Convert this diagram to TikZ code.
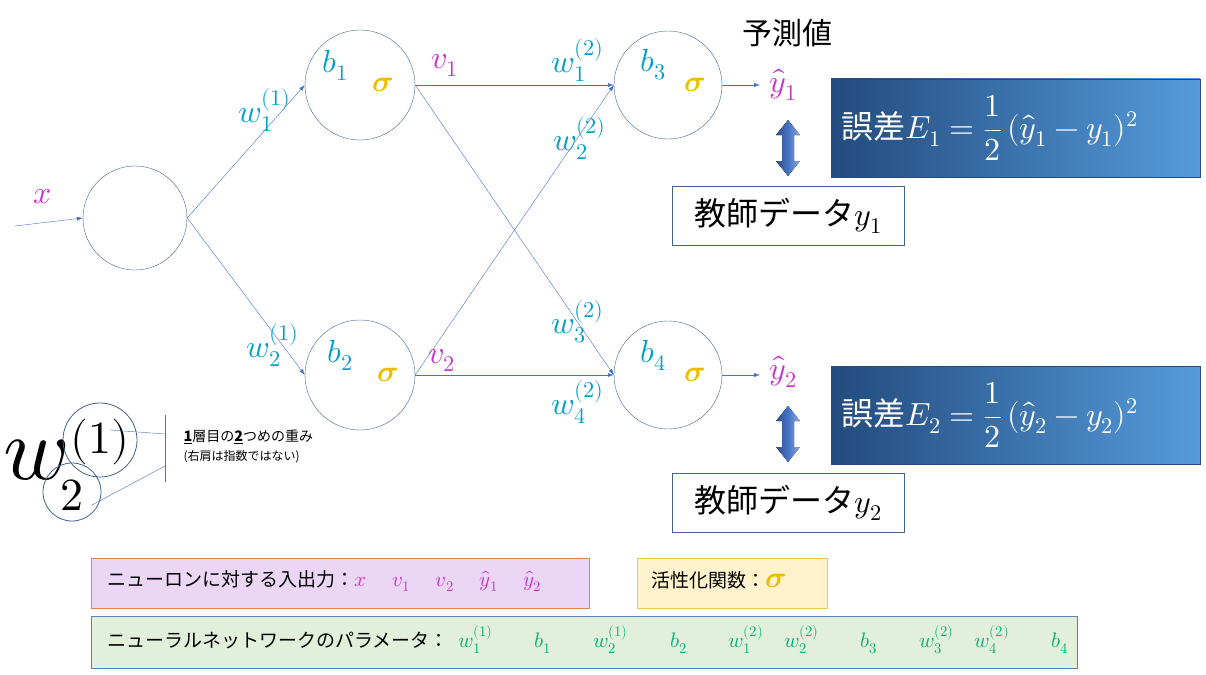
\documentclass[tikz,border=0pt]{standalone}
\usepackage{amsmath}
\usepackage{fontspec}
\usepackage{unicode-math}
\setmathfont{Latin Modern Math}
\newfontfamily\jp{Noto Sans CJK JP}
\usetikzlibrary{arrows.meta}
\definecolor{mag}{RGB}{204,51,204}
\definecolor{cy}{RGB}{0,160,200}
\definecolor{gd}{RGB}{235,190,0}
\definecolor{ln}{RGB}{68,114,196}
\definecolor{cl}{RGB}{65,100,140}
\definecolor{gr}{RGB}{0,176,120}
\definecolor{dk}{RGB}{35,75,125}
\definecolor{lt}{RGB}{85,155,220}
\newcommand{\sgm}{\symbfit{\sigma}}
\begin{document}
\begin{tikzpicture}[x=1pt,y=-1pt,
 neuron/.style={draw=cl,circle,minimum size=#1},
 con/.style={draw=ln,-{Latex[length=6pt,width=4pt]}},
 cyl/.style={text=cy,font=\fontsize{32}{34}\selectfont},
 mgl/.style={text=mag,font=\fontsize{32}{34}\selectfont},
 sg/.style={text=gd,font=\fontsize{30}{32}\selectfont},
 lab/.style={font=\jp\fontsize{19}{21}\selectfont}]
\useasboundingbox (0,0) rectangle (1206,674);
\node[neuron=104pt] (in) at (135,218) {};
\node[neuron=110pt] (n1) at (360,85) {};
\node[neuron=110pt] (n2) at (360,375) {};
\node[neuron=108pt] (n3) at (668,85) {};
\node[neuron=108pt] (n4) at (668,375) {};
\coordinate (xs) at (15,226);
\coordinate (o1) at (760,85);
\coordinate (o2) at (760,375);
\draw[con] (xs) -- (in.west);
\draw[con] (in.east) -- (n1.west);
\draw[con] (in.east) -- (n2.west);
\draw[con] (n1.east) -- (n3.west);
\draw[con] (n1.east) -- (n4.west);
\draw[con] (n2.east) -- (n3.west);
\draw[con] (n2.east) -- (n4.west);
\draw[con] (n3.east) -- (o1);
\draw[con] (n4.east) -- (o2);
\node[mgl] (lx) at (43,197) {$x$};
\node[cyl] (w11) at (265,110) {$w_1^{(1)}$};
\node[cyl] (w21) at (273,345) {$w_2^{(1)}$};
\node[cyl] (lb1) at (335,65) {$b_1$};
\node[sg] (s1) at (383,85) {$\sgm$};
\node[cyl] (lb2) at (340,355) {$b_2$};
\node[sg] (s2) at (388,375) {$\sgm$};
\node[mgl] (v1) at (445,65) {$v_1$};
\node[mgl] (v2) at (442,360) {$v_2$};
\node[cyl] (w12) at (578,60) {$w_1^{(2)}$};
\node[cyl] (w22) at (580,138) {$w_2^{(2)}$};
\node[cyl] (w32) at (578,322) {$w_3^{(2)}$};
\node[cyl] (w42) at (578,402) {$w_4^{(2)}$};
\node[cyl] (lb3) at (653,65) {$b_3$};
\node[sg] (s3) at (695,85) {$\sgm$};
\node[cyl] (lb4) at (653,355) {$b_4$};
\node[sg] (s4) at (695,375) {$\sgm$};
\node[mgl] (y1) at (783,85) {$\hat y_1$};
\node[mgl] (y2) at (783,372) {$\hat y_2$};
\node[font=\jp\fontsize{30}{32}\selectfont] (pred) at (787,33) {予測値};
% double arrows
\foreach \yy in {148,434}{
 \fill[left color=ln!70!black,right color=ln!60!white,middle color=ln] (788,\yy-28) -- (800,\yy-13) -- (794,\yy-13) -- (794,\yy+13) -- (800,\yy+13) -- (788,\yy+28) -- (776,\yy+13) -- (782,\yy+13) -- (782,\yy-13) -- (776,\yy-13) -- cycle;
}
% error boxes
\foreach \yy/\k in {79/1,366/2}{
 \shade[left color=dk,right color=lt] (831,\yy) rectangle (1200,\yy+98);
 \draw[dk] (831,\yy) rectangle (1200,\yy+98);
 \node[text=white,font=\jp\fontsize{32}{34}\selectfont,anchor=west] (err\k) at (838,\yy+49) {誤差$E_\k=\dfrac{1}{2}\,(\hat y_\k-y_\k)^2$};
 \node[draw=cl,minimum width=232pt,minimum height=59pt,font=\jp\fontsize{32}{34}\selectfont] (t\k) at (788,\yy+137) {教師データ$y_\k$};
}
% annotation
\node[font=\fontsize{90}{90}\selectfont] (bw) at (36,460) {$w$};
\node[font=\fontsize{46}{46}\selectfont] (bs) at (100,442) {$(1)$};
\node[font=\fontsize{46}{46}\selectfont] (bi) at (72,495) {$2$};
\draw[cl,thick] (100,440) circle (37);
\draw[cl,thick] (72,492) circle (29);
\coordinate (bar1) at (165,415);
\coordinate (bar2) at (165,482);
\draw[ln] (bar1) -- (bar2);
\draw[ln] (110,430) -- (165,434);
\draw[ln] (92,505) -- (165,466);
\node[anchor=west,font=\jp\fontsize{14}{16}\selectfont] (ann1) at (180,437) {\underline{\textbf{\Large 1}}層目の\underline{\textbf{\Large 2}}つめの重み};
\node[anchor=west,font=\jp\fontsize{12}{14}\selectfont] (ann2) at (180,457) {(右肩は指数ではない)};
% bottom legend boxes
\node[draw={rgb,255:red,230;green,130;blue,80},fill={rgb,255:red,235;green,215;blue,245},minimum width=498pt,minimum height=50pt] (bx1) at (340,583) {};
\node[lab,anchor=west] at (104,581) {ニューロンに対する入出力：\color{mag}\fontsize{21}{23}\selectfont$x\quad\ v_1\quad\ v_2\quad\ \hat y_1\quad\ \hat y_2$};
\node[draw={rgb,255:red,240;green,200;blue,80},fill={rgb,255:red,255;green,242;blue,204},minimum width=190pt,minimum height=50pt] (bx2) at (732,583) {};
\node[lab,anchor=west] at (648,580) {活性化関数：\textcolor{gd}{\fontsize{30}{32}\selectfont$\sgm$}};
\node[draw={rgb,255:red,90;green,130;blue,180},fill={rgb,255:red,226;green,239;blue,218},minimum width=986pt,minimum height=52pt] (bx3) at (584,642) {};
\node[lab,anchor=west] at (104,640) {ニューラルネットワークのパラメータ：\color{gr}\fontsize{21}{23}\selectfont$\ \ w_1^{(1)}\qquad b_1\qquad w_2^{(1)}\qquad b_2\qquad w_1^{(2)}\quad w_2^{(2)}\qquad b_3\qquad w_3^{(2)}\quad w_4^{(2)}\qquad b_4$};
\end{tikzpicture}
\end{document}
